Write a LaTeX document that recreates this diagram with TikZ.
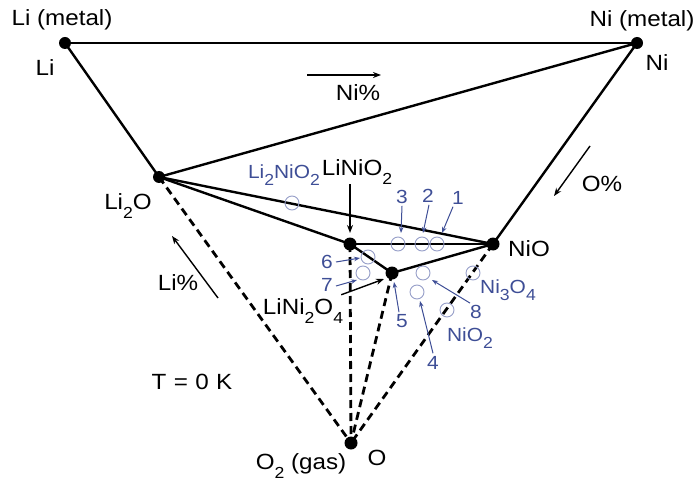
\documentclass[tikz,border=0pt]{standalone}
\usepackage{fontspec}
\setmainfont[FakeStretch=1.1]{Liberation Sans}
\usetikzlibrary{arrows.meta}
\definecolor{lblue}{RGB}{62,78,150}
\definecolor{cblue}{RGB}{150,158,200}
\newcommand\ssub[1]{\raisebox{-0.7ex}{\fontsize{16}{16}\selectfont #1}}
\begin{document}
\begin{tikzpicture}[x=1pt,y=-1pt,
  dot/.style={circle,fill=black,inner sep=0pt,minimum size=12pt},
  phase/.style={line width=2.4pt},
  tie/.style={line width=2.8pt,dash pattern=on 8pt off 5pt},
  lab/.style={font=\fontsize{22}{25}\selectfont,inner sep=0pt},
  blab/.style={font=\fontsize{19}{22}\selectfont,text=lblue,inner sep=0pt},
  ring/.style={circle,draw=cblue,line width=0.9pt,minimum size=14pt,inner sep=0pt},
  barrow/.style={-{Stealth[length=8pt,width=6pt]},line width=1.4pt},
  narrow/.style={-{Stealth[length=6pt,width=4.5pt]},draw=lblue,line width=1pt},
]
\useasboundingbox (0,0) rectangle (700,486);
% vertices
\coordinate (Li) at (65,43);
\coordinate (Ni) at (637,43);
\coordinate (LiO) at (159,177);
\coordinate (LNO) at (350,244);
\coordinate (NiO) at (493,244);
\coordinate (LN2O) at (392,273);
\coordinate (O) at (351,443);
% tie lines
\draw[line width=1.7pt] (Li) -- (Ni);
\draw[phase] (Li) -- (LiO);
\draw[phase] (Ni) -- (LiO);
\draw[phase] (Ni) -- (NiO);
\draw[phase] (LiO) -- (NiO);
\draw[phase] (LiO) -- (LNO);
\draw[phase] (LNO) -- (NiO);
\draw[phase] (LNO) -- (LN2O);
\draw[phase] (LN2O) -- (NiO);
\draw[tie] (LiO) -- (O);
\draw[tie] (LNO) -- (O);
\draw[tie] (LN2O) -- (O);
\draw[tie] (NiO) -- (O);
% dots
\node[dot] (dLi) at (Li) {};
\node[dot] (dNi) at (Ni) {};
\node[dot] (dLiO) at (LiO) {};
\node[dot,minimum size=13pt] (dLNO) at (LNO) {};
\node[dot,minimum size=13pt] (dNiO) at (NiO) {};
\node[dot,minimum size=13pt] (dLN2O) at (LN2O) {};
\node[dot,minimum size=13pt] (dO) at (O) {};
% rings (metastable phases)
\node[ring] (r3) at (398,244) {};
\node[ring] (r2) at (422,244) {};
\node[ring] (r1) at (437,244) {};
\node[ring] (rLNO) at (292,203) {};
\node[ring] (r6) at (368,257) {};
\node[ring] (r7) at (363,273) {};
\node[ring] (r8) at (423,273) {};
\node[ring] (r4) at (417,292) {};
\node[ring] (rN3) at (473,273) {};
\node[ring] (rN2) at (447,310) {};
% black labels
\node[lab] (tLim) at (62,20) {Li (metal)};
\node[lab] (tLi) at (45,68) {Li};
\node[lab] (tNim) at (642,21) {Ni (metal)};
\node[lab] (tNi) at (657,63) {Ni};
\node[lab] (tLiO) at (128,206) {Li\ssub{2}O};
\node[lab] (tLNO) at (357,172) {LiNiO\ssub{2}};
\node[lab] (tNiO) at (529,249) {NiO};
\node[lab] (tLN2O) at (303,311) {LiNi\ssub{2}O\ssub{4}};
\node[lab] (tO) at (377,458) {O};
\node[lab] (tO2) at (301,466) {O\ssub{2} (gas)};
\node[lab] (tT) at (192,382) {T\,\,=\,\,0\,\,K};
\node[lab] (tNip) at (358,93) {Ni\%};
\node[lab] (tOp) at (602,184) {O\%};
\node[lab] (tLip) at (178,283) {Li\%};
% blue labels
\node[blab] (tL2NO) at (284,175) {Li\ssub{2}NiO\ssub{2}};
\node[blab] (n3) at (402,197) {3};
\node[blab] (n2) at (428,196) {2};
\node[blab] (n1) at (458,198) {1};
\node[blab] (n6) at (327,262) {6};
\node[blab] (n7) at (327,285) {7};
\node[blab] (n5) at (402,321) {5};
\node[blab] (n8) at (476,312) {8};
\node[blab] (n4) at (433,363) {4};
\node[blab] (tN3O) at (508,290) {Ni\ssub{3}O\ssub{4}};
\node[blab] (tN2O) at (470,338) {NiO\ssub{2}};
% composition arrows
\coordinate (aNi1) at (307,75);
\coordinate (aNi2) at (381,75);
\coordinate (aO1) at (590,146);
\coordinate (aO2) at (554,196);
\coordinate (aLi1) at (218,298);
\coordinate (aLi2) at (172,236);
\draw[barrow] (aNi1) -- (aNi2);
\draw[barrow] (aO1) -- (aO2);
\draw[barrow] (aLi1) -- (aLi2);
% pointer arrows (black)
\coordinate (pLNO) at (350,233);
\coordinate (pLN2O) at (384,279);
\draw[barrow] (tLNO.south -| pLNO) -- (pLNO);
\draw[barrow] (tLN2O.north east) ++(-2,-4) coordinate (sLN2O) -- (pLN2O);
% pointer arrows (blue)
\coordinate (p3) at (401,233);
\coordinate (p2) at (423,233);
\coordinate (p1) at (442,233);
\coordinate (p6) at (360,258);
\coordinate (p7) at (357,280);
\coordinate (p5) at (394,282);
\coordinate (p8) at (432,280);
\coordinate (p4) at (420,301);
\draw[narrow] (n3.south) ++(0,2) -- (p3);
\draw[narrow] (n2.south) ++(1,2) -- (p2);
\draw[narrow] (n1.south west) ++(1,2) -- (p1);
\draw[narrow] (n6.east) ++(3,0) -- (p6);
\draw[narrow] (n7.east) ++(3,1) -- (p7);
\draw[narrow] (n5.north) ++(-3,-2) -- (p5);
\draw[narrow] (n8.north west) ++(0,-2) -- (p8);
\draw[narrow] (n4.north) ++(0,-3) -- (p4);
\end{tikzpicture}
\end{document}
